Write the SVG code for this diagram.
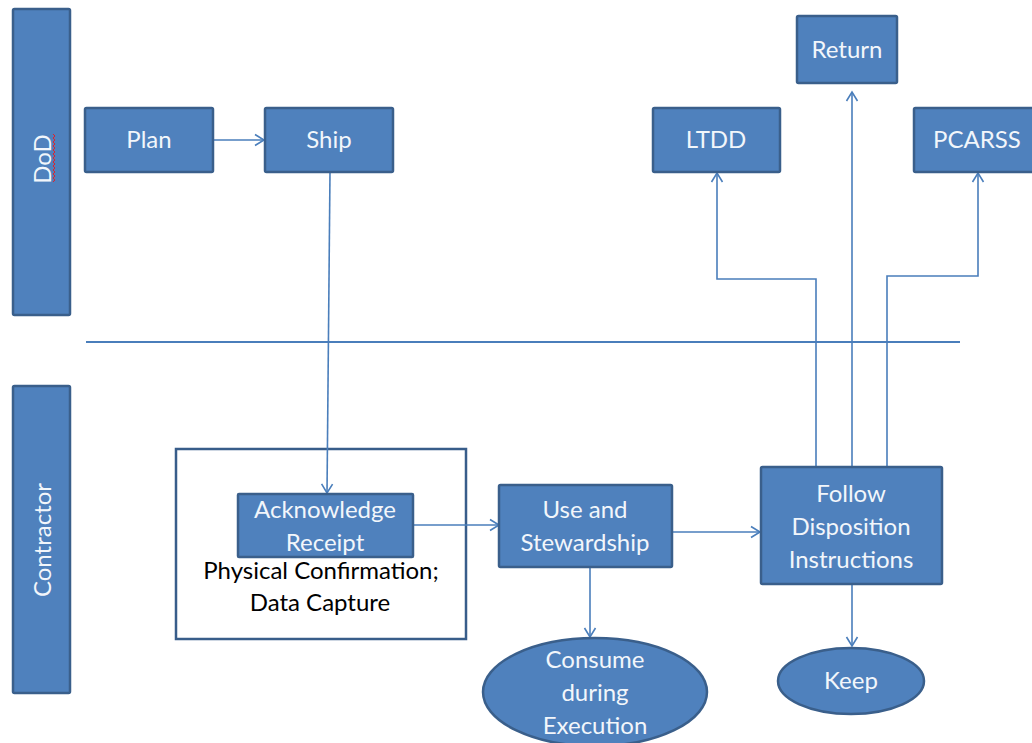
<svg xmlns="http://www.w3.org/2000/svg" width="1032" height="743" viewBox="0 0 1032 743">
<defs>
<style>
.box{fill:#4f81bd;stroke:#3a5f8b;stroke-width:2.5}
.lbl{font-family:Lato,"Liberation Sans",sans-serif;font-size:24px;fill:#f2f6fb;text-anchor:middle}
.dark{font-family:Lato,"Liberation Sans",sans-serif;font-size:24px;fill:#000;text-anchor:middle}
.conn{fill:none;stroke:#4a7ebb;stroke-width:1.6}
</style>
<marker id="arr" markerUnits="userSpaceOnUse" viewBox="-11 -7 13 14" markerWidth="13" markerHeight="14" refX="0" refY="0" orient="auto">
<path d="M-9,-5.5 L0,0 L-9,5.5" fill="none" stroke="#4a7ebb" stroke-width="1.6"/>
</marker>
</defs>
<rect width="1032" height="743" fill="#fff"/>

<g id="lane-dod">
<rect class="box" x="13" y="9" width="57" height="306" rx="1.5"/>
<text class="lbl" transform="translate(51,159) rotate(-90)">DoD</text>
<path d="M53,134 l2,2 l-2,2 l2,2 l-2,2 l2,2 l-2,2 l2,2 l-2,2 l2,2 l-2,2 l2,2 l-2,2 l2,2 l-2,2 l2,2 l-2,2 l2,2 l-2,2 l2,2 l-2,2 l2,2 l-2,2 l2,2 l-2,2" fill="none" stroke="#e0202a" stroke-width="1"/>
</g>
<g id="lane-contractor">
<rect class="box" x="13" y="386" width="57" height="307" rx="1.5"/>
<text class="lbl" transform="translate(51,540) rotate(-90)">Contractor</text>
</g>

<g id="divider">
<line x1="86" y1="342" x2="960" y2="342" stroke="#4a7ebb" stroke-width="1.8"/>
</g>

<g id="group-receipt">
<rect x="176" y="449" width="290" height="190" fill="#fff" stroke="#385d8a" stroke-width="2.5"/>
<text class="dark" x="321" y="579">Physical Confirmation;</text>
<text class="dark" x="320" y="611">Data Capture</text>
</g>

<g id="connectors">
<line class="conn" x1="213" y1="140" x2="264" y2="140" marker-end="url(#arr)"/>
<line class="conn" x1="330" y1="172" x2="327" y2="493" marker-end="url(#arr)"/>
<line class="conn" x1="413" y1="525" x2="499" y2="525" marker-end="url(#arr)"/>
<line class="conn" x1="672" y1="532" x2="760" y2="532" marker-end="url(#arr)"/>
<line class="conn" x1="590" y1="567" x2="590" y2="637" marker-end="url(#arr)"/>
<line class="conn" x1="852" y1="584" x2="852" y2="646" marker-end="url(#arr)"/>
<line class="conn" x1="852" y1="467" x2="852" y2="92" marker-end="url(#arr)"/>
<path class="conn" d="M816,467 V279 H717 V173" marker-end="url(#arr)"/>
<path class="conn" d="M887,467 V276 H978 V173" marker-end="url(#arr)"/>
</g>

<g id="plan">
<rect class="box" x="85" y="108" width="128" height="64" rx="1.5"/>
<text class="lbl" x="149" y="148">Plan</text>
</g>
<g id="ship">
<rect class="box" x="265" y="108" width="128" height="64" rx="1.5"/>
<text class="lbl" x="329" y="148">Ship</text>
</g>
<g id="return">
<rect class="box" x="797" y="16" width="100" height="67" rx="1.5"/>
<text class="lbl" x="847" y="58">Return</text>
</g>
<g id="ltdd">
<rect class="box" x="653" y="108" width="127" height="64" rx="1.5"/>
<text class="lbl" x="716" y="148">LTDD</text>
</g>
<g id="pcarss">
<rect class="box" x="914" y="108" width="126" height="64" rx="1.5"/>
<text class="lbl" x="977" y="148">PCARSS</text>
</g>
<g id="acknowledge">
<rect class="box" x="238" y="494" width="175" height="63" rx="1"/>
<text class="lbl" x="325" y="518">Acknowledge</text>
<text class="lbl" x="325" y="551">Receipt</text>
</g>
<g id="use">
<rect class="box" x="499" y="485" width="173" height="82" rx="1.5"/>
<text class="lbl" x="585" y="518">Use and</text>
<text class="lbl" x="585" y="551">Stewardship</text>
</g>
<g id="follow">
<rect class="box" x="761" y="467" width="181" height="117" rx="1.5"/>
<text class="lbl" x="851" y="502">Follow</text>
<text class="lbl" x="851" y="535">Disposition</text>
<text class="lbl" x="851" y="568">Instructions</text>
</g>
<g id="consume">
<ellipse class="box" cx="595" cy="692" rx="112" ry="54"/>
<text class="lbl" x="595" y="668">Consume</text>
<text class="lbl" x="595" y="701">during</text>
<text class="lbl" x="595" y="734">Execution</text>
</g>
<g id="keep">
<ellipse class="box" cx="851" cy="681" rx="73" ry="33"/>
<text class="lbl" x="851" y="689">Keep</text>
</g>
</svg>
